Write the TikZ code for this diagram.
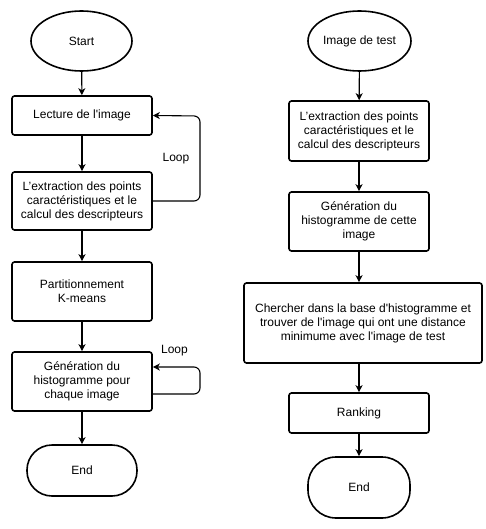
\documentclass[tikz,border=0pt]{standalone}
\usepackage{fontspec}
\newfontfamily\arialf{Liberation Sans}
\usetikzlibrary{shapes.geometric,arrows.meta}
\begin{document}
\begin{tikzpicture}[x=1pt,y=-1pt,
  every node/.style={font=\arialf\fontsize{12}{14}\selectfont, align=center, inner sep=0pt},
  box/.style={draw, line width=1.6pt, rounded corners=2.5pt, minimum width=140pt},
  oval/.style={draw, ellipse, line width=1.6pt},
  term/.style={draw, line width=1.6pt},
  arr/.style={line width=1.1pt, -{Stealth[length=7pt,width=7pt,inset=2pt]}},
  lp/.style={line width=1.1pt, rounded corners=6pt, -{Stealth[length=7pt,width=7pt,inset=2pt]}}
]
\useasboundingbox (0,0) rectangle (485,529);
% left column
\node[oval, minimum width=101pt, minimum height=60pt] (start) at (81.5,41) {Start};
\node[box, minimum height=39pt] (lect) at (82,115.5) {Lecture de l'image};
\node[box, minimum height=58pt] (ext) at (82,201) {L’extraction des points\\caractéristiques et le\\calcul des descripteurs};
\node[box, minimum height=59pt] (part) at (82,291.5) {Partitionnement\\K-means};
\node[box, minimum height=59pt] (gen) at (82,381.5) {Génération du\\histogramme pour\\chaque image};
\node[term, rounded corners=25pt, minimum width=110pt, minimum height=51pt] (end1) at (82,470.5) {End};
\draw[arr] (start) -- (lect);
\draw[arr] (lect) -- (ext);
\draw[arr] (ext) -- (part);
\draw[arr] (part) -- (gen);
\draw[arr] (gen) -- (end1);
\coordinate (l1a) at (200,201);
\coordinate (l1b) at (200,116);
\draw[lp] (ext.east) -- (l1a) -- (l1b) -- (lect.east);
\node (loop1) at (176,159) {Loop};
\coordinate (l2a) at (200,394);
\coordinate (l2b) at (200,367);
\draw[lp] (ext.east |- l2a) -- (l2a) -- (l2b) -- (gen.east |- l2b);
\node (loop2) at (174.5,351) {Loop};
% right column
\node[oval, minimum width=103pt, minimum height=60pt] (test) at (359.5,41) {Image de test};
\node[box, minimum height=60pt] (ext2) at (359,131) {L’extraction des points\\caractéristiques et le\\calcul des descripteurs};
\node[box, minimum height=59pt] (gen2) at (359,221.5) {Génération du\\histogramme de cette\\image};
\node[box, minimum width=238pt, minimum height=80pt] (cher) at (363,323) {Chercher dans la base d'histogramme et\\trouver de l'image qui ont une distance\\minimume avec l'image de test};
\node[box, minimum height=40pt] (rank) at (359,413) {Ranking};
\node[term, rounded corners=28pt, minimum width=102pt, minimum height=61pt] (end2) at (359,487.5) {End};
\draw[arr] (test) -- (ext2);
\draw[arr] (ext2) -- (gen2);
\draw[arr] (gen2) -- (gen2 |- cher.north);
\draw[arr] (cher.south -| rank) -- (rank);
\draw[arr] (rank) -- (end2);
\end{tikzpicture}
\end{document}
